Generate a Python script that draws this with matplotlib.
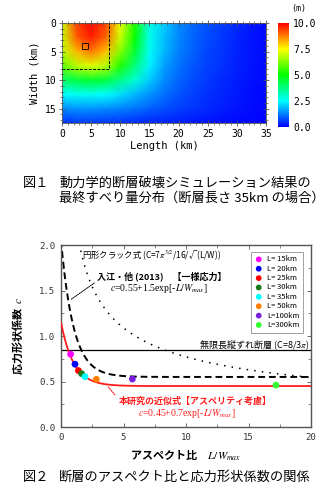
import numpy as np
import matplotlib.pyplot as plt
from matplotlib.colors import LinearSegmentedColormap
from matplotlib.patches import Rectangle
from matplotlib.ticker import MultipleLocator, FormatStrFormatter

plt.rcParams['font.family'] = ['Noto Sans CJK JP', 'DejaVu Sans']
plt.rcParams['mathtext.fontset'] = 'stix'

# ---- Fig.1 data: final slip (m) every 2.5 km ----
length_km = [0, 2.5, 5, 7.5, 10, 12.5, 15, 17.5, 20, 22.5, 25, 27.5, 30, 32.5, 35]
width_km = [0, 2.5, 5, 7.5, 10, 12.5, 15, 17.5]
slip = [
    [7.0, 9.3, 9.9, 9.3, 7.3, 5.3, 2.8, 2.0, 1.4, 1.05, 0.8, 0.6, 0.4, 0.25, 0.1],
    [7.0, 9.1, 9.7, 9.0, 7.0, 5.0, 2.7, 1.9, 1.35, 1.0, 0.75, 0.55, 0.38, 0.23, 0.1],
    [6.8, 8.2, 8.8, 8.1, 6.3, 4.5, 2.6, 1.8, 1.25, 0.95, 0.7, 0.52, 0.35, 0.2, 0.1],
    [5.9, 6.8, 7.2, 6.8, 5.3, 3.8, 2.4, 1.6, 1.15, 0.85, 0.65, 0.48, 0.32, 0.2, 0.1],
    [4.0, 4.4, 4.6, 4.4, 3.7, 2.9, 2.0, 1.4, 1.0, 0.75, 0.58, 0.42, 0.28, 0.17, 0.08],
    [2.5, 2.6, 2.6, 2.5, 2.2, 1.8, 1.45, 1.1, 0.85, 0.65, 0.5, 0.36, 0.24, 0.14, 0.07],
    [1.4, 1.45, 1.45, 1.4, 1.3, 1.15, 0.95, 0.8, 0.65, 0.52, 0.4, 0.3, 0.2, 0.12, 0.06],
    [0.5, 0.55, 0.55, 0.52, 0.48, 0.42, 0.38, 0.33, 0.28, 0.23, 0.18, 0.14, 0.1, 0.06, 0.03],
]
asperity_km = 8.1
hypo_x, hypo_y, hypo_size = 3.5, 3.5, 1.0

# ---- Fig.2 data ----
legend_labels = ["L= 15km", "L= 20km", "L= 25km", "L= 30km",
                 "L= 35km", "L= 50km", "L=100km", "L=300km"]
aspect_ratio = [0.77, 1.12, 1.39, 1.65, 1.92, 2.83, 5.71, 17.2]
shape_factor = [0.80, 0.69, 0.62, 0.586, 0.553, 0.524, 0.527, 0.46]
point_colors = ["#ff00ff", "#0000ff", "#ff0000", "#1a7a1a",
                "#00ffff", "#ff8000", "#7a1fe0", "#33ff33"]
# c = a + b*exp(-L/W)
irie_a, irie_b = 0.55, 1.5
this_a, this_b = 0.45, 0.7
infinite_c = 8 / (3 * np.pi)
crack_k = 7 * np.pi ** 1.5 / 16

fig = plt.figure(figsize=(3.3, 4.9), dpi=100)
W, H = 330.0, 490.0


def box(x0, y0, x1, y1):
    return [x0 / W, 1 - y1 / H, (x1 - x0) / W, (y1 - y0) / H]


mono = 'DejaVu Sans Mono'
grey = '#555555'

# ================= Fig.1 =================
ax1 = fig.add_axes(box(62, 23, 266, 123))
cmap = LinearSegmentedColormap.from_list(
    'slip', ['#0000ff', '#00ffff', '#00ff00', '#ffff00', '#ff0000'])
im = ax1.pcolormesh(length_km, width_km, np.array(slip), cmap=cmap,
                    vmin=0, vmax=10, shading='gouraud')
ax1.set_xlim(0, 35)
ax1.set_ylim(17.5, 0)
ax1.plot([0, asperity_km, asperity_km], [asperity_km, asperity_km, 0],
         color='black', ls=(0, (3, 1.5)), lw=0.7)
ax1.add_patch(Rectangle((hypo_x, hypo_y), hypo_size, hypo_size,
                        fill=False, ec='black', lw=0.6))
ax1.xaxis.set_major_locator(MultipleLocator(5))
ax1.xaxis.set_minor_locator(MultipleLocator(1))
ax1.yaxis.set_major_locator(MultipleLocator(5))
ax1.yaxis.set_minor_locator(MultipleLocator(1))
ax1.tick_params(which='both', direction='inout', top=True, right=True,
                color=grey, labelsize=7, pad=2)
ax1.tick_params(which='major', length=4, width=0.6)
ax1.tick_params(which='minor', length=2.5, width=0.5)
for lab in ax1.get_xticklabels() + ax1.get_yticklabels():
    lab.set_family(mono)
for s in ax1.spines.values():
    s.set_color(grey)
    s.set_linewidth(0.6)
ax1.set_xlabel("Length (km)", family=mono, fontsize=7.5, labelpad=2)
ax1.set_ylabel("Width (km)", family=mono, fontsize=7.5, labelpad=4)

cax = fig.add_axes(box(278, 23, 289, 127))
cb = fig.colorbar(im, cax=cax, ticks=[0, 2.5, 5, 7.5, 10], format='%.1f')
cb.outline.set_visible(False)
cax.tick_params(length=0, labelsize=7, pad=3)
for lab in cax.get_yticklabels():
    lab.set_family(mono)
fig.text(299 / W, 1 - 9 / H, "(m)", family=mono, fontsize=6,
         ha='center', va='center')

fig.text(23 / W, 1 - 183 / H, "図１", fontsize=9.5, va='center')
fig.text(59 / W, 1 - 183 / H, "動力学的断層破壊シミュレーション結果の",
         fontsize=9.5, va='center')
fig.text(59 / W, 1 - 198 / H, "最終すべり量分布（断層長さ 35km の場合）",
         fontsize=9.5, va='center')

# ================= Fig.2 =================
ax2 = fig.add_axes(box(61, 245, 311, 427))
ratio = np.linspace(0, 20, 400)
ratio_pos = np.linspace(0.3, 20, 400)
ax2.plot(ratio, this_a + this_b * np.exp(-ratio), color='#ff1a1a', lw=1.3, zorder=3)
ax2.plot(ratio, irie_a + irie_b * np.exp(-ratio), color='black', lw=1.4,
         ls=(0, (3.5, 2)), zorder=2)
ax2.plot(ratio_pos, crack_k / np.sqrt(ratio_pos), color='black', lw=1.1,
         ls=(0, (1, 4)), zorder=2)
ax2.axhline(infinite_c, color='black', lw=0.9, zorder=2)

for xv, yv, c, lab in zip(aspect_ratio, shape_factor, point_colors, legend_labels):
    ax2.scatter(xv, yv, s=24, color=c, edgecolors='none', label=lab, zorder=4)

ax2.set_xlim(0, 20)
ax2.set_ylim(0, 2.0)
ax2.xaxis.set_major_locator(MultipleLocator(5))
ax2.xaxis.set_minor_locator(MultipleLocator(2.5))
ax2.yaxis.set_major_locator(MultipleLocator(0.5))
ax2.yaxis.set_minor_locator(MultipleLocator(0.25))
ax2.yaxis.set_major_formatter(FormatStrFormatter('%.1f'))
ax2.tick_params(which='both', direction='in', top=True, right=True,
                color=grey, labelsize=6.5, pad=4)
ax2.tick_params(which='major', length=3, width=0.6)
ax2.tick_params(which='minor', length=2, width=0.5)
for lab in ax2.get_xticklabels() + ax2.get_yticklabels():
    lab.set_family(mono)
    lab.set_color('#333333')
for s in ax2.spines.values():
    s.set_color(grey)
    s.set_linewidth(1.0)

ax2.set_xlabel("アスペクト比　$L/W_{max}$", fontsize=8, fontweight='bold',
               labelpad=5)
ax2.set_ylabel("応力形状係数  $c$", fontsize=8, fontweight='bold', labelpad=10)

leg = ax2.legend(loc='upper right', bbox_to_anchor=(0.985, 0.985),
                 fontsize=5.5, frameon=True, fancybox=False, handletextpad=0.6,
                 labelspacing=0.18, borderpad=0.5, handlelength=1.0,
                 markerscale=0.85)
leg.get_frame().set_edgecolor('#888888')
leg.get_frame().set_linewidth(0.7)

ax2.text(1.7, 1.89, "円形クラック式 (C=7$\\pi^{3/2}$/16/√(L/W))",
         fontsize=6, va='center')
ax2.text(2.9, 1.66, "入江・他 (2013)　【一様応力】", fontsize=6.5,
         fontweight='bold', va='center')
ax2.text(3.9, 1.52, "$c$=0.55+1.5exp[-$L/W_{max}$]", fontsize=7,
         family='Liberation Serif', va='center')
ax2.annotate("", xy=(0.59, irie_a + irie_b * np.exp(-0.59)), xytext=(2.85, 1.60),
             arrowprops=dict(arrowstyle='-', color='black', lw=0.7, ls=(0, (1, 1))))
ax2.text(19.9, 0.90, "無限長縦ずれ断層 (C=8/3$\\pi$)", fontsize=6.5,
         ha='right', va='center')
ax2.text(4.64, 0.28, "本研究の近似式【アスペリティ考慮】", fontsize=6.5,
         fontweight='bold', color='#ff1a1a', va='center')
ax2.text(6.2, 0.15, "$c$=0.45+0.7exp[-$L/W_{max}$]", fontsize=7,
         family='Liberation Serif', color='#ff1a1a', va='center')
ax2.annotate("", xy=(3.6, this_a + this_b * np.exp(-3.6)), xytext=(4.45, 0.33),
             arrowprops=dict(arrowstyle='-', color='#ff1a1a', lw=0.8, ls=(0, (1, 1))))

fig.text(23 / W, 1 - 477 / H, "図２", fontsize=9.5, va='center')
fig.text(59 / W, 1 - 477 / H, "断層のアスペクト比と応力形状係数の関係",
         fontsize=9.5, va='center')

fig.savefig("out.png", dpi=100)
